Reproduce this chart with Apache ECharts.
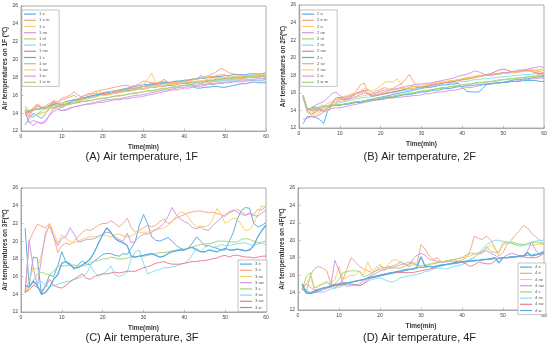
<!DOCTYPE html>
<html><head><meta charset="utf-8">
<script src="https://cdn.jsdelivr.net/npm/echarts@6/dist/echarts.min.js"></script>
<style>html,body{margin:0;padding:0;background:#fff}#c{width:550px;height:347px}</style>
</head><body><div id="c"></div>
<script>
const minutes = [1,2,3,4,5,6,7,8,9,10,11,12,13,14,15,16,17,18,19,20,21,22,23,24,25,26,27,28,29,30,31,32,33,34,35,36,37,38,39,40,41,42,43,44,45,46,47,48,49,50,51,52,53,54,55,56,57,58,59,60];
const xTicks = [0,10,20,30,40,50,60];
const yTicks = [12,14,16,18,20,22,24,26];

const names1F = ['1 e','1 e m','1 n','1 ne','1 nl','1 nr','1 nw','1 s','1 se','1 sw','1 w','1 w m'];
const names2F = ['2 e','2 e m','2 n','2 ne','2 nl','2 nr','2 nw','2 s','2 se','2 sw','2 w','2 w m'];
const names3F = ['3 e','3 n','3 ne','3 nw','3 s','3 se','3 sw','3 w'];
const names4F = ['4 e','4 n','4 ne','4 nw','4 s','4 se','4 sw','4 w'];

const f1_e = [12.7,13.4,14.0,13.7,13.4,13.9,14.6,15.0,14.8,14.6, 14.9,15.1,15.3,15.2,15.5,15.8,15.9,16.0,16.1,16.2, 16.3,16.4,16.5,16.6,16.7,16.8,16.9,17.0,17.1,17.2, 17.2,17.3,17.3,17.4,17.4,17.4,17.4,17.5,17.5,17.5, 17.3,17.0,16.8,16.8,16.9,16.9,17.0,17.0,16.9,16.9, 17.0,17.1,17.2,17.3,17.3,17.4,17.5,17.4,17.4,17.4];
const f1_em = [14.8,14.2,14.6,15.0,14.6,14.8,15.1,15.4,15.3,15.7, 15.8,16.0,16.4,16.0,15.8,16.1,16.2,16.4,16.5,16.6, 16.7,16.8,16.9,17.0,17.1,17.1,17.0,17.1,17.3,17.6, 17.5,17.4,17.4,17.5,17.6,17.4,17.3,17.4,17.5,17.6, 17.7,17.8,17.9,18.0,18.1,18.2,18.4,18.7,19.0,18.8, 18.5,18.4,18.3,18.3,18.2,18.1,18.2,18.3,18.2,18.0];
const f1_n = [14.0,13.5,13.6,13.9,14.1,14.0,14.4,14.6,14.8,15.0, 15.0,15.2,15.4,15.3,15.5,15.7,15.8,16.0,16.6,16.0, 16.1,16.2,16.3,16.4,16.5,16.6,16.7,16.8,16.9,17.2, 17.8,18.5,17.4,17.2,17.3,17.3,17.4,17.5,17.6,17.6, 17.7,17.8,17.9,18.0,18.1,18.1,18.1,18.0,18.0,17.9, 17.8,17.9,18.0,18.1,18.2,18.2,18.3,18.2,18.1,18.0];
const f1_ne = [14.2,13.0,12.6,13.0,12.8,13.0,13.8,14.5,14.6,14.3, 14.3,14.5,14.7,14.8,14.9,15.0,15.1,15.2,15.3,15.4, 15.5,15.5,15.6,15.6,15.7,15.8,15.9,16.0,16.0,16.1, 16.2,16.3,16.4,16.5,16.6,16.6,16.7,16.8,16.9,16.9, 17.0,17.1,17.1,17.2,17.2,17.3,17.3,17.4,17.4,17.5, 17.5,17.6,17.6,17.7,17.7,17.8,17.8,17.9,17.9,17.9];
const f1_nl = [14.1,14.2,14.3,14.4,14.5,14.5,14.6,14.6,14.7,14.8, 14.9,15.0,15.1,15.2,15.3,15.4,15.4,15.5,15.6,15.7, 15.7,15.8,15.9,16.0,16.0,16.1,16.2,16.3,16.3,16.4, 16.5,16.5,16.6,16.7,16.7,16.8,16.9,16.9,17.0,17.1, 17.1,17.2,17.3,17.3,17.4,17.4,17.5,17.6,17.6,17.7, 17.7,17.8,17.8,17.9,17.9,18.0,18.0,18.0,18.1,18.1];
const f1_nr = [14.3,13.8,13.5,14.0,14.2,14.5,14.8,15.2,15.1,15.0, 15.2,15.3,15.4,15.4,15.6,15.7,15.8,15.9,16.0,16.1, 16.2,16.2,16.3,16.4,16.5,16.5,16.6,16.7,16.8,16.8, 16.9,17.0,17.1,17.1,17.2,17.2,17.3,17.3,17.4,17.4, 17.4,17.4,17.5,17.5,17.5,17.6,17.6,17.6,17.6,17.7, 17.7,17.7,17.7,17.8,17.8,17.7,17.7,17.6,17.6,17.6];
const f1_nw = [14.5,14.0,14.3,14.8,14.6,14.6,14.9,15.2,15.0,14.9, 15.0,15.2,15.5,15.5,15.8,15.6,15.7,15.8,16.0,16.1, 16.1,16.2,16.3,16.3,16.4,16.5,16.5,16.6,16.7,16.7, 16.8,16.9,16.9,17.0,17.0,17.1,17.1,17.2,17.3,17.3, 17.4,17.5,17.5,17.6,17.6,17.7,17.7,17.8,17.8,17.9, 17.9,18.0,18.0,18.1,18.1,18.2,18.2,18.3,18.2,18.2];
const f1_s = [14.0,14.2,14.4,14.5,14.5,14.6,14.8,15.0,15.1,15.1, 15.3,15.4,15.5,15.5,15.6,15.8,15.9,16.0,16.1,16.2, 16.3,16.4,16.5,16.5,16.6,16.7,16.8,16.8,16.9,17.0, 17.1,17.2,17.2,17.3,17.4,17.4,17.5,17.6,17.6,17.7, 17.7,17.8,17.8,17.9,17.9,18.0,18.0,18.1,18.1,18.2, 18.2,18.3,18.3,18.3,18.3,18.4,18.4,18.4,18.4,18.5];
const f1_se = [14.3,13.6,14.5,15.0,14.7,14.5,14.9,15.3,15.1,15.5, 15.6,15.8,16.0,15.6,15.9,16.0,16.1,16.2,16.2,16.3, 16.4,16.4,16.5,16.5,16.6,16.7,16.7,16.8,16.9,17.0, 17.0,17.1,17.2,17.4,17.8,17.5,17.4,17.4,17.5,17.5, 17.6,17.7,17.8,18.2,18.0,18.0,18.1,18.2,18.3,18.3, 18.0,18.0,17.9,17.9,18.0,18.1,18.2,18.3,18.2,18.1];
const f1_sw = [14.0,13.8,13.7,13.8,13.9,14.2,14.5,14.8,15.0,15.1, 15.2,15.3,15.3,15.4,15.5,15.6,15.7,15.8,15.9,16.0, 16.0,16.1,16.2,16.3,16.4,16.4,16.5,16.6,16.7,16.7, 16.8,16.9,17.0,17.0,17.1,17.2,17.2,17.3,17.4,17.4, 17.5,17.5,17.6,17.6,17.7,17.8,17.8,17.9,17.9,18.0, 18.0,18.1,18.1,18.1,18.2,18.2,18.2,18.3,18.3,18.3];
const f1_w = [14.0,12.9,13.2,13.0,12.9,13.2,13.8,14.2,14.4,14.3, 14.4,14.6,14.7,14.8,14.9,15.0,15.0,15.1,15.2,15.2, 15.3,15.4,15.5,15.5,15.6,15.6,15.7,15.8,15.8,15.9, 16.0,16.1,16.2,16.3,16.4,16.5,16.6,16.6,16.7,16.8, 16.8,16.9,17.0,17.0,17.1,17.2,17.2,17.3,17.3,17.4, 17.4,17.5,17.5,17.5,17.6,17.6,17.7,17.7,17.7,17.8];
const f1_wm = [14.2,14.3,14.4,14.5,14.5,14.6,14.7,14.8,14.8,14.9, 15.0,15.0,15.1,15.2,15.3,15.3,15.4,15.5,15.6,15.6, 15.7,15.8,15.9,15.9,16.0,16.1,16.2,16.2,16.3,16.4, 16.5,16.5,16.6,16.7,16.8,16.8,16.9,17.0,17.1,17.1, 17.2,17.3,17.4,17.4,17.5,17.6,17.6,17.7,17.8,17.8, 17.9,17.9,18.0,18.0,18.0,18.1,18.1,18.1,18.1,18.2];

const f2_e = [12.5,13.3,13.3,13.2,13.0,12.5,13.9,14.5,14.6,14.6, 14.7,14.8,14.9,15.0,15.0,15.1,15.2,15.3,15.4,15.5, 15.6,15.7,15.8,15.9,16.0,16.1,16.2,16.3,16.4,16.5, 16.6,16.6,16.7,16.8,16.9,16.9,17.0,17.0,17.1,16.6, 16.2,16.1,16.1,16.1,16.5,17.0,17.0,17.1,17.1,17.2, 17.3,17.4,17.5,17.5,17.6,17.6,17.7,17.8,17.8,17.9];
const f2_em = [15.7,14.0,13.6,13.8,14.2,14.0,14.2,14.6,14.8,15.2, 15.3,15.5,15.7,16.2,16.9,17.1,16.0,15.7,15.8,15.9, 16.0,16.0,16.1,16.2,16.3,16.4,16.5,16.5,16.6,16.7, 16.8,16.9,17.0,17.0,17.1,17.2,17.3,17.3,17.4,17.5, 17.5,17.6,17.7,17.8,17.9,18.0,18.0,18.1,18.2,18.3, 18.3,18.4,18.4,18.5,18.5,18.6,18.6,18.5,18.4,18.3];
const f2_n = [15.7,14.3,13.8,14.0,14.3,14.5,14.8,15.0,15.2,15.4, 15.6,15.7,15.9,16.0,16.2,16.5,16.3,16.2,16.5,16.8, 17.2,17.3,17.2,17.6,17.0,16.5,16.4,16.5,16.6,16.7, 16.8,16.9,17.0,17.1,17.2,17.2,17.3,17.4,17.5,17.6, 17.7,17.8,17.9,18.0,17.9,18.0,18.1,18.1,18.2,18.3, 18.3,18.4,18.4,18.5,18.5,18.5,18.6,18.6,18.7,18.7];
const f2_ne = [13.0,13.1,13.3,13.3,13.5,13.8,14.0,14.2,14.3,14.3, 14.4,14.5,14.6,14.7,14.8,14.9,15.0,15.1,15.2,15.2, 15.3,15.4,15.4,15.5,15.5,15.6,15.6,15.7,15.7,15.8, 15.9,15.9,16.0,16.1,16.1,16.2,16.3,16.3,16.4,16.5, 16.6,16.6,16.7,16.8,16.9,17.0,17.0,17.1,17.1,17.2, 17.2,17.3,17.3,17.4,17.5,17.5,17.6,17.6,17.7,17.7];
const f2_nl = [15.7,14.1,14.1,14.2,14.3,14.4,14.4,14.5,14.6,14.6, 14.7,14.8,14.9,14.9,15.0,15.1,15.2,15.3,15.3,15.4, 15.5,15.5,15.6,15.7,15.8,15.8,15.9,16.0,16.1,16.2, 16.2,16.3,16.4,16.5,16.5,16.6,16.7,16.7,16.8,16.9, 16.9,17.0,17.1,17.1,17.2,17.2,17.3,17.3,17.4,17.5, 17.5,17.6,17.6,17.7,17.7,17.8,17.8,17.9,17.9,18.0];
const f2_nr = [15.5,13.8,13.5,14.0,14.5,14.6,14.5,14.6,14.8,14.9, 15.0,15.1,15.2,15.3,15.4,15.5,15.5,15.6,15.7,15.8, 15.9,16.0,16.0,16.1,16.2,16.3,16.3,16.4,16.5,16.6, 16.7,16.7,16.8,16.9,17.0,17.0,17.1,17.2,17.2,17.3, 17.3,17.4,17.5,17.5,17.6,17.6,17.7,17.7,17.8,17.8, 17.9,17.9,18.0,18.0,18.1,18.1,18.1,18.2,18.2,18.2];
const f2_nw = [15.6,14.2,14.0,14.1,14.0,13.9,14.2,14.8,15.4,15.5, 15.2,15.3,15.6,15.9,16.1,16.3,15.8,15.6,15.7,15.8, 15.9,16.0,16.1,16.2,16.3,16.4,16.6,16.8,16.6,16.6, 16.7,16.8,16.9,17.0,17.1,17.2,17.2,17.3,17.4,17.5, 17.6,17.7,17.8,17.9,18.0,18.1,18.2,18.4,18.6,18.7, 18.6,18.4,18.3,18.4,18.5,18.6,18.5,18.3,18.2,18.1];
const f2_s = [15.5,14.0,14.3,14.4,14.2,14.0,14.3,14.6,14.6,14.6, 14.7,14.7,14.8,14.9,14.9,15.0,15.1,15.2,15.2,15.3, 15.4,15.5,15.5,15.6,15.7,15.8,15.8,15.9,16.0,16.1, 16.1,16.2,16.3,16.3,16.4,16.5,16.5,16.6,16.7,16.7, 16.8,16.8,16.9,16.9,17.0,17.0,17.1,17.1,17.2,17.2, 17.2,17.3,17.3,17.3,17.4,17.4,17.4,17.4,17.3,17.3];
const f2_se = [15.7,14.0,13.5,13.8,14.0,14.3,14.5,14.8,15.0,15.3, 15.5,15.6,15.8,15.9,16.0,16.2,16.4,16.0,16.2,16.4, 16.6,16.4,16.5,16.8,17.0,17.5,18.1,17.3,16.7,16.6, 16.8,16.9,17.1,17.3,17.2,17.2,17.3,17.4,17.5,17.6, 17.7,17.7,17.8,17.9,18.0,18.0,18.1,18.2,18.2,18.3, 18.2,18.3,18.4,18.5,18.6,18.5,18.4,18.2,18.0,17.6];
const f2_sw = [15.6,13.9,13.5,13.5,13.8,14.0,14.3,14.5,14.8,15.0, 15.1,15.2,15.4,15.5,15.6,15.7,15.8,15.9,16.0,16.0, 16.1,16.2,16.3,16.4,16.5,16.5,16.6,16.7,16.8,16.9, 16.9,17.0,17.1,17.1,17.2,17.3,17.4,17.4,17.5,17.6, 17.6,17.7,17.8,17.9,17.9,18.0,18.0,18.1,18.1,18.2, 18.2,18.3,18.3,18.4,18.4,18.5,18.5,18.5,18.6,18.6];
const f2_w = [15.6,14.0,14.3,14.6,14.8,15.0,15.4,15.9,16.1,15.7, 15.4,15.3,15.4,15.6,15.8,16.0,15.9,15.8,16.0,16.2, 16.3,16.3,16.4,16.5,16.6,16.7,16.8,16.9,17.0,17.0, 17.1,17.1,17.2,17.3,17.4,17.5,17.6,17.7,17.9,18.0, 18.1,18.3,18.5,18.4,18.2,18.0,18.0,18.1,18.2,18.3, 18.3,18.4,18.5,18.6,18.6,18.7,18.8,18.9,19.0,18.9];
const f2_wm = [15.7,14.2,14.2,14.3,14.3,14.4,14.5,14.5,14.6,14.7, 14.7,14.8,14.9,15.0,15.0,15.1,15.2,15.3,15.3,15.4, 15.5,15.6,15.6,15.7,15.8,15.9,16.0,16.0,16.1,16.2, 16.3,16.3,16.4,16.5,16.6,16.6,16.7,16.8,16.8,16.9, 17.0,17.0,17.1,17.2,17.2,17.3,17.3,17.4,17.5,17.5, 17.6,17.6,17.7,17.7,17.8,17.8,17.9,17.9,18.0,18.0];

const f3_e = [21.5,15.0,18.2,18.1,14.0,15.0,16.2,16.0,17.2,18.8, 17.6,17.5,16.8,17.3,17.8,17.4,17.3,17.8,18.1,18.5, 18.6,18.6,18.4,18.3,18.6,18.5,19.2,20.0,21.8,23.0, 22.0,20.5,20.1,20.0,20.2,20.4,20.0,19.5,19.2,19.0, 19.2,19.8,20.5,20.0,19.5,19.5,19.3,19.2,19.0,19.0, 20.0,21.0,22.5,23.5,23.8,23.7,22.0,21.6,21.8,22.1];
const f3_n = [14.2,20.0,21.0,21.9,21.7,21.5,22.0,20.5,18.7,19.5, 19.8,19.6,20.0,20.5,21.0,21.3,21.2,21.5,21.8,22.0, 22.0,22.3,22.0,21.6,22.0,22.6,21.5,21.0,21.2,21.5, 21.8,21.6,21.8,22.2,22.5,22.0,22.2,22.6,22.8,23.0, 23.2,23.3,23.4,23.4,23.3,23.2,23.3,23.1,23.0,22.8, 23.2,23.4,23.6,23.3,23.0,23.2,23.0,23.6,23.5,24.0];
const f3_ne = [14.2,15.5,17.0,16.8,18.5,20.5,22.0,21.0,19.8,20.7, 20.3,20.0,19.8,20.0,20.2,20.4,20.5,20.5,20.6,20.7, 20.6,20.5,20.7,20.8,20.6,20.5,20.6,20.8,21.0,21.0, 21.0,21.2,21.3,21.4,21.5,21.8,22.2,22.8,23.3,23.2, 22.7,22.0,21.6,21.7,21.6,21.8,22.5,23.7,23.0,22.0, 22.3,22.6,22.5,21.8,21.2,21.3,22.0,23.0,24.0,23.8];
const f3_nw = [14.2,20.1,17.0,15.0,18.0,21.0,21.7,20.5,19.5,20.3, 20.5,21.5,20.8,19.9,20.0,20.2,20.2,20.3,20.5,20.8, 21.0,20.9,20.5,20.2,20.0,20.9,19.8,20.0,20.5,20.8, 20.8,21.0,21.3,21.6,22.0,22.8,23.8,23.0,22.5,22.2, 22.0,21.5,21.4,21.6,21.3,21.2,21.8,22.2,22.6,23.0, 23.3,23.5,23.3,23.0,22.9,23.1,22.9,22.8,23.2,23.5];
const f3_s = [14.2,14.8,15.5,16.3,16.5,16.3,16.2,16.6,17.2,17.2, 17.2,17.3,17.3,17.2,17.2,17.3,17.6,17.7,17.8,18.0, 18.0,18.2,18.1,18.0,18.0,18.1,18.2,18.2,18.3,18.3, 18.4,18.5,18.6,18.7,18.7,18.8,18.9,19.0,19.1,19.1, 19.2,19.3,19.5,19.6,19.7,19.7,19.8,20.0,20.0,20.0, 19.9,19.9,19.9,20.2,20.3,20.2,20.0,19.8,19.9,20.0];
const f3_se = [14.2,14.5,15.0,15.3,15.5,15.0,14.8,15.0,15.1,15.3, 15.4,15.5,15.7,15.8,16.0,16.3,17.2,16.5,16.0,16.3, 16.6,17.2,16.2,16.0,16.2,16.5,18.0,18.8,19.0,17.5, 16.3,16.5,16.7,16.8,17.0,17.0,17.1,17.2,17.4,17.5, 17.8,18.5,19.2,18.8,19.3,19.5,19.3,19.4,19.6,19.5, 19.5,19.6,19.7,19.8,19.8,19.6,19.5,19.7,19.8,19.6];
const f3_sw = [14.2,14.5,15.0,14.8,14.4,14.8,15.7,15.0,14.8,14.7, 15.0,15.4,15.7,16.0,16.3,15.8,15.7,16.0,16.2,16.3, 16.3,16.4,16.5,16.4,16.5,16.6,16.6,16.6,16.8,17.0, 17.1,17.3,17.5,17.6,17.7,17.5,17.4,17.4,17.4,17.5, 17.6,17.7,17.7,17.8,17.8,17.9,18.0,18.1,18.3,18.4, 18.2,18.4,18.4,18.3,18.2,18.2,18.1,18.2,18.3,18.3];
const f3_w = [15.0,14.8,15.5,15.0,14.0,14.2,14.8,15.7,16.2,17.5, 17.7,17.3,17.0,17.0,17.3,17.6,18.0,18.8,19.8,20.7, 21.5,21.0,20.3,20.0,19.8,19.5,18.3,18.2,18.3,18.4, 18.5,18.6,18.4,18.2,18.3,18.6,18.8,18.9,19.0,19.0, 19.2,19.3,19.0,18.8,18.8,19.0,18.9,18.8,19.0,19.2, 19.0,19.0,19.1,19.0,18.9,19.0,19.5,20.5,21.2,21.8];

const f4_e = [14.8,14.2,14.0,14.2,14.3,14.5,14.6,14.7,14.8,14.9, 15.0,15.1,15.2,15.3,15.4,15.5,15.6,15.7,15.8,15.9, 16.0,16.1,16.2,16.3,16.4,16.5,16.6,16.7,16.8,16.9, 16.9,17.0,17.0,17.1,17.2,17.2,17.3,17.3,17.4,17.5, 17.5,17.6,17.6,17.7,17.7,17.8,17.8,17.9,17.9,18.0, 18.0,18.1,18.1,18.2,18.2,18.3,18.3,18.4,18.4,18.5];
const f4_n = [14.8,14.0,16.0,16.7,17.0,16.8,16.5,15.0,14.5,15.0, 15.5,16.8,18.0,17.5,17.0,16.7,16.5,16.3,16.5,16.7, 16.8,17.0,16.9,16.8,16.8,17.0,17.3,17.5,17.2,19.5, 19.0,18.2,17.8,18.0,17.5,17.6,17.7,17.8,17.6,17.7, 18.0,18.8,20.5,20.2,20.1,20.5,20.0,19.2,18.2,18.6, 19.5,20.0,20.6,21.1,21.7,21.4,20.8,20.4,20.0,19.5];
const f4_ne = [14.3,15.0,15.8,14.5,14.7,15.0,15.1,15.0,15.5,17.0, 15.5,15.8,16.0,16.0,16.5,16.0,17.5,16.5,16.8,17.3, 16.5,17.2,17.7,17.8,17.5,17.2,17.0,17.2,17.1,17.0, 17.2,17.3,17.4,17.5,17.5,17.6,17.7,17.8,17.9,18.0, 18.1,18.2,18.4,18.6,18.8,19.0,19.5,19.0,18.5,19.8, 19.7,19.6,19.5,19.6,19.5,19.5,19.4,19.5,19.6,19.5];
const f4_nw = [14.5,15.0,14.6,14.3,14.4,14.5,14.6,14.8,17.7,16.5, 15.0,14.7,14.8,14.9,15.0,15.3,15.7,16.0,16.2,16.5, 16.6,16.8,17.0,17.2,17.5,17.3,17.0,17.8,18.3,18.5, 18.3,17.8,17.7,17.6,17.5,17.5,17.6,17.6,17.5,17.5, 17.6,17.8,18.0,18.5,18.7,18.8,18.5,18.3,18.0,18.0, 18.3,18.5,18.4,18.2,18.2,18.8,19.8,18.8,18.4,18.8];
const f4_s = [14.3,15.8,16.3,14.5,14.8,15.0,15.3,14.8,15.0,15.5, 16.3,16.4,16.5,16.5,16.4,15.8,16.0,16.2,16.5,17.0, 16.9,16.8,16.8,17.0,17.2,17.3,17.5,17.3,17.2,17.0, 17.1,17.2,17.3,17.4,17.5,17.6,17.7,17.8,17.9,18.0, 18.3,18.5,18.5,18.4,18.5,19.3,18.7,18.6,18.7,19.5, 19.7,19.8,19.7,19.5,19.5,19.6,19.7,19.8,19.7,19.6];
const f4_se = [14.3,14.2,14.0,14.0,14.1,14.0,14.2,14.4,14.5,14.6, 14.8,15.0,14.9,14.8,14.8,15.0,15.3,15.5,15.6,15.7, 15.5,15.3,15.2,15.4,15.7,15.8,15.9,16.0,16.1,16.2, 16.4,16.5,16.7,16.8,16.8,16.7,16.8,17.0,17.1,17.2, 17.5,17.8,18.0,18.5,19.0,19.5,19.8,20.0,20.0,19.9, 19.8,19.7,19.5,19.3,19.4,19.6,19.8,19.9,20.0,20.0];
const f4_sw = [14.5,13.9,13.9,14.0,14.1,14.3,14.5,14.6,14.8,14.8, 14.9,15.0,15.0,14.9,14.8,15.0,15.5,15.7,15.8,16.0, 16.1,16.2,16.3,16.3,16.3,16.3,16.3,16.3,16.4,16.5, 16.6,16.7,16.8,17.0,17.1,17.2,17.3,17.4,17.4,17.5, 17.3,17.0,17.2,17.5,17.4,17.3,17.3,17.6,18.0,18.0, 18.0,18.0,18.1,18.1,18.1,18.0,18.0,18.0,18.2,18.5];
const f4_w = [15.0,14.0,13.9,14.1,14.3,14.5,14.6,14.8,14.9,15.0, 15.1,15.1,15.2,15.3,15.4,15.5,15.7,15.8,15.9,16.0, 16.1,16.2,16.3,16.4,16.5,16.6,16.7,16.7,16.9,18.1, 17.0,17.0,16.9,17.0,17.1,17.2,17.3,17.4,17.5,17.5, 17.6,17.6,17.7,17.7,17.8,17.8,17.9,18.0,17.4,18.0, 18.0,18.1,18.1,18.2,18.2,18.6,18.2,18.3,18.5,18.7];

const values1F = [f1_e,f1_em,f1_n,f1_ne,f1_nl,f1_nr,f1_nw,f1_s,f1_se,f1_sw,f1_w,f1_wm];
const values2F = [f2_e,f2_em,f2_n,f2_ne,f2_nl,f2_nr,f2_nw,f2_s,f2_se,f2_sw,f2_w,f2_wm];
const values3F = [f3_e,f3_n,f3_ne,f3_nw,f3_s,f3_se,f3_sw,f3_w];
const values4F = [f4_e,f4_n,f4_ne,f4_nw,f4_s,f4_se,f4_sw,f4_w];

const captions = ['(A) Air temperature, 1F','(B) Air temperature, 2F','(C) Air temperature, 3F','(D) Air temperature, 4F'];
const yNames = ['Air temperatures on 1F (\u2103)','Air temperatures on 2F(\u2103)','Air temperatures on 3F(\u2103)','Air temperatures on 4F(\u2103)'];

const palette = ['#55abe2','#f6a47f','#f6cf6c','#d199de','#a7d374','#80def4','#eb7b8d'];
const FONT = '"Liberation Sans", Arial, sans-serif';

const grids = [
  {left:21, top:6, width:245, height:125},
  {left:299, top:5, width:245, height:123},
  {left:21, top:188, width:245, height:124},
  {left:298, top:188, width:246, height:122}
];

const chart = echarts.init(document.getElementById('c'), null, {renderer:'canvas'});
const xAxes = [], yAxes = [], series = [], legends = [], graphics = [];
const panels = [[names1F,values1F],[names2F,values2F],[names3F,values3F],[names4F,values4F]];
const legendPos = [
  {left:22, top:10, pad:[2,9,2,2]},
  {left:300, top:10, pad:[2,9,2,2]},
  {left:238, top:260, pad:[2,3,2,2]},
  {left:518, top:263, pad:[2,2,2,2]}
];

grids.forEach((g,i)=>{
  Object.assign(g,{show:true, borderColor:'#9a9a9a', borderWidth:0.8, backgroundColor:'#fff'});
  xAxes.push({type:'value', gridIndex:i, min:0, max:60, interval:10,
    name:'Time(min)', nameLocation:'middle', nameGap:13,
    nameTextStyle:{fontFamily:FONT, fontSize:6.5, fontWeight:'bold', color:'#333'},
    axisLine:{show:true, lineStyle:{color:'#9a9a9a', width:0.8}},
    axisTick:{show:true, inside:true, length:2.5, lineStyle:{color:'#9a9a9a', width:0.6}},
    axisLabel:{fontFamily:FONT, fontSize:5, color:'#444', margin:3},
    splitLine:{show:false}});
  yAxes.push({type:'value', gridIndex:i, min:12, max:26, interval:2,
    name:yNames[i], nameLocation:'middle', nameGap:10, nameRotate:90,
    nameTextStyle:{fontFamily:FONT, fontSize:6.5, fontWeight:'bold', color:'#333'},
    axisLine:{show:true, lineStyle:{color:'#9a9a9a', width:0.8}},
    axisTick:{show:true, inside:true, length:2.5, lineStyle:{color:'#9a9a9a', width:0.6}},
    axisLabel:{fontFamily:FONT, fontSize:5, color:'#444', margin:3},
    splitLine:{show:false}});
  const [names, vals] = panels[i];
  names.forEach((n,k)=>{
    const thick = (n==='4 w' || n==='3 w');
    series.push({name:n, type:'line', xAxisIndex:i, yAxisIndex:i, symbol:'none', showSymbol:false,
      color: palette[k%7], animation:false, silent:true,
      lineStyle:{width: thick?1.3:0.95, color: palette[k%7]},
      data: minutes.map((t,j)=>[t, vals[k][j]])});
  });
  legends.push({show:true, orient:'vertical', left:legendPos[i].left, top:legendPos[i].top,
    data:names, selectedMode:false, icon:'rect', itemWidth:12, itemHeight:1.2, itemGap:2,
    padding:legendPos[i].pad, borderColor:'#aaa', borderWidth:0.7, backgroundColor:'#fff',
    textStyle:{fontFamily:FONT, fontSize:4.2, lineHeight:4.2, color:'#555', padding:[0,0,0,-2]}});
  graphics.push({type:'text', left: g.left + g.width/2 - 58, top: (i<2?151:332),
    style:{text:captions[i], font:'11px '+FONT, fill:'#222'}});
});

chart.setOption({
  animation:false,
  backgroundColor:'#fff',
  grid:grids, xAxis:xAxes, yAxis:yAxes, legend:legends, series:series, graphic:graphics
});
</script></body></html>
